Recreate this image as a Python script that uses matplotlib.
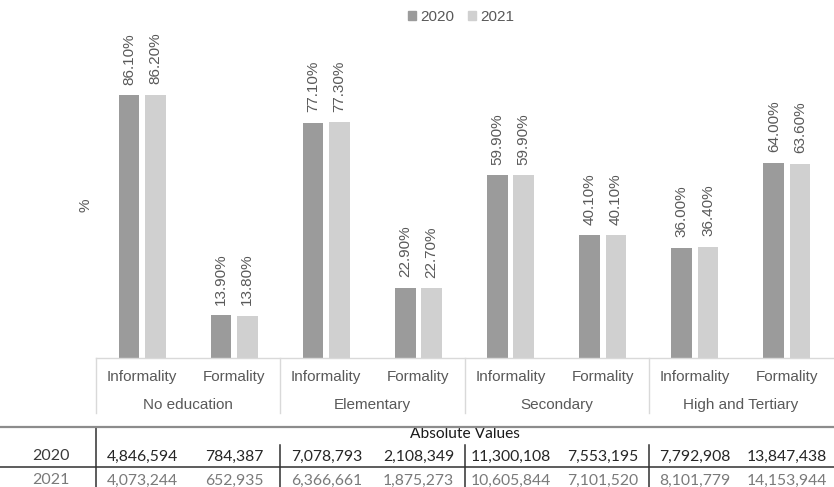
import matplotlib
matplotlib.use("Agg")
import matplotlib.pyplot as plt
from matplotlib.patches import Patch
from matplotlib.lines import Line2D
from matplotlib.transforms import blended_transform_factory
import numpy as np

# ---- data ----
groups = ["No education", "Elementary", "Secondary", "High and Tertiary"]
kinds = ["Informality", "Formality"]
share_2020 = [86.10, 13.90, 77.10, 22.90, 59.90, 40.10, 36.00, 64.00]
share_2021 = [86.20, 13.80, 77.30, 22.70, 59.90, 40.10, 36.40, 63.60]
abs_2020 = [4846594, 784387, 7078793, 2108349, 11300108, 7553195, 7792908, 13847438]
abs_2021 = [4073244, 652935, 6366661, 1875273, 10605844, 7101520, 8101779, 14153944]
years = ["2020", "2021"]

# ---- style ----
W, H, DPI = 834, 487, 100
C2020 = "#9b9b9b"
C2021 = "#d0d0d0"
TXT = "#595959"
GRID = "#d9d9d9"
chart_font = "Liberation Sans"
table_font = "Lato"

fig = plt.figure(figsize=(W / DPI, H / DPI), dpi=DPI)

def fx(px):
    return px / W

def fy(py):
    return 1 - py / H

base_py = 357.7
top_py = 30.0
px_per_pct = 3.05
ax = fig.add_axes([fx(96), fy(base_py), fx(833) - fx(96), fy(top_py) - fy(base_py)])
ax.set_xlim(-0.5, 7.5)
ax.set_ylim(0, (base_py - top_py) / px_per_pct)
for s in ax.spines.values():
    s.set_visible(False)
ax.set_yticks([])
ax.set_xticks([])

x = np.arange(len(share_2020))
off = 0.143
bw = 0.224
b1 = ax.bar(x - off, share_2020, bw, color=C2020, label=years[0])
b2 = ax.bar(x + off, share_2021, bw, color=C2021, label=years[1])

for bars, vals in ((b1, share_2020), (b2, share_2021)):
    for rect, v in zip(bars, vals):
        ax.annotate(f"{v:.2f}%", (rect.get_x() + rect.get_width() / 2, v),
                    xytext=(0, 7.5), textcoords="offset points",
                    rotation=90, ha="center", va="bottom",
                    fontsize=11, color=TXT, family=chart_font)

# baseline and category axis
fig.add_artist(Line2D([fx(96), fx(834)], [fy(base_py), fy(base_py)], color=GRID, lw=1))
bt = blended_transform_factory(ax.transData, fig.transFigure)
for b in [-0.5, 1.5, 3.5, 5.5]:
    ax.add_line(Line2D([b, b], [fy(base_py), fy(413)], transform=bt, color=GRID,
                       lw=1, clip_on=False))
for i in range(len(x)):
    ax.text(i, fy(377), kinds[i % 2], transform=bt, ha="center", va="center",
            fontsize=11, color=TXT, family=chart_font)
for g, name in enumerate(groups):
    ax.text(2 * g + 0.5, fy(405), name, transform=bt, ha="center", va="center",
            fontsize=11, color=TXT, family=chart_font)

fig.text(fx(86), fy(205), "%", rotation=90, ha="center", va="center",
         fontsize=11, color=TXT, family=chart_font)

# legend
handles = [Patch(color=C2020, label=years[0]), Patch(color=C2021, label=years[1])]
fig.legend(handles=handles, loc="center", bbox_to_anchor=(fx(461), fy(17)), ncol=2,
           frameon=False, handlelength=0.5, handleheight=0.5, handletextpad=0.3,
           columnspacing=0.9, prop={"family": chart_font, "size": 11},
           labelcolor=TXT)

# ---- absolute values table ----
fig.add_artist(Line2D([0, 1], [fy(427), fy(427)], color="#8c8c8c", lw=1.6))
fig.add_artist(Line2D([0, 1], [fy(467.3), fy(467.3)], color="#303030", lw=1.1))
ax.add_line(Line2D([-0.5, -0.5], [fy(427), 0], transform=bt, color="#303030",
                   lw=1.1, clip_on=False))
for b in [1.5, 3.5, 5.5]:
    ax.add_line(Line2D([b, b], [fy(445), 0], transform=bt, color="#303030",
                       lw=1.1, clip_on=False))

ax.text(3.5, fy(434), "Absolute Values", transform=bt, ha="center", va="center",
        fontsize=11.2, color="#1a1a1a", family=table_font)

row_y = [456.5, 480.5]
row_col = ["#262626", "#7a7a7a"]
year_col = ["#3a3a3a", "#7a7a7a"]
for r, (vals, yr) in enumerate(((abs_2020, years[0]), (abs_2021, years[1]))):
    fig.text(fx(51), fy(row_y[r]), yr, ha="center", va="center",
             fontsize=11.5, color=year_col[r], family=table_font)
    for i, v in enumerate(vals):
        ax.text(i, fy(row_y[r]), f"{v:,}", transform=bt, ha="center", va="center",
                fontsize=11.3, color=row_col[r], family=table_font)

fig.savefig("out.png", dpi=DPI)
